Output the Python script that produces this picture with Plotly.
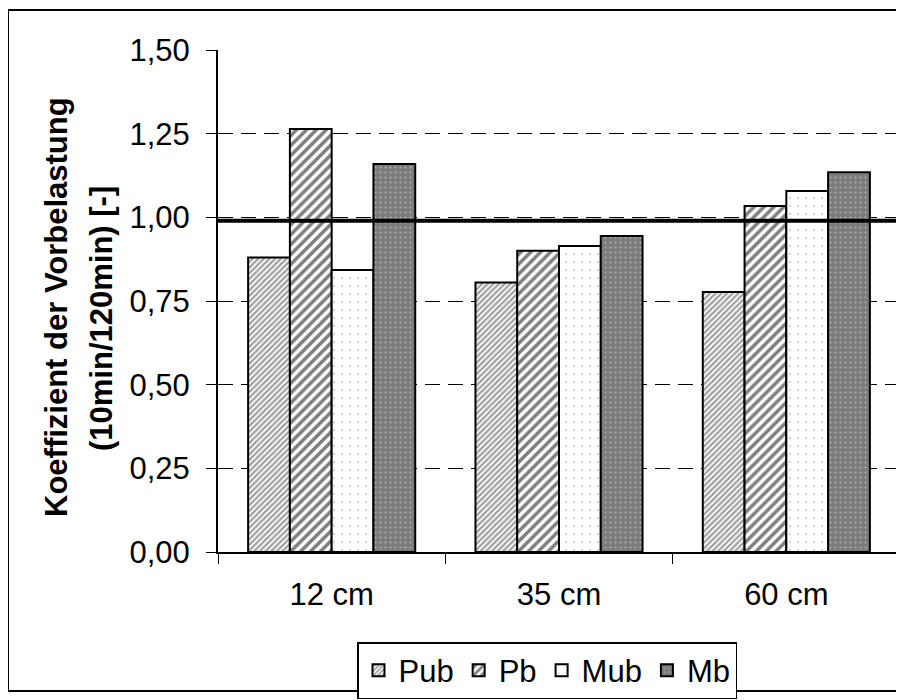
import plotly.graph_objects as go

categories = ["12 cm", "35 cm", "60 cm"]
pub = [0.88, 0.805, 0.777]
pb = [1.264, 0.90, 1.034]
mub = [0.843, 0.914, 1.079]
mb = [1.159, 0.944, 1.135]
ref_value = 0.99
tick_vals = [0, 0.25, 0.5, 0.75, 1.0, 1.25, 1.5]
tick_text = ["0,00", "0,25", "0,50", "0,75", "1,00", "1,25", "1,50"]

# page body has an 8px margin; figure coords = screen coords - 8
OFF = 8
W, H = 896, 692
L, R, T, B = 218 - OFF, 4, 50 - OFF, 148
PW, PH = W - L - R, H - T - B

def px_x(x):  # screen px -> paper
    return (x - OFF - L) / PW

def px_y(y):
    return (H - B - (y - OFF)) / PH

FONT = "Liberation Sans, Arial, sans-serif"

styles = {
    "Pub": dict(color="white", pattern=dict(shape="/", fgcolor="#404040", size=4, solidity=0.55, fillmode="overlay")),
    "Pb": dict(color="white", pattern=dict(shape="/", fgcolor="black", size=7, solidity=0.5, fillmode="overlay")),
    "Mub": dict(color="white", pattern=dict(shape=".", fgcolor="#808080", size=8, solidity=0.04, fillmode="overlay")),
    "Mb": dict(color="#7c7c7c", pattern=dict(shape=".", fgcolor="#dcdcdc", size=5, solidity=0.15, fillmode="overlay")),
}

fig = go.Figure()
for name, vals in [("Pub", pub), ("Pb", pb), ("Mub", mub), ("Mb", mb)]:
    st = styles[name]
    fig.add_trace(go.Bar(
        x=categories, y=vals, name=name,
        marker=dict(color=st["color"], pattern=st["pattern"], line=dict(color="black", width=2)),
    ))

# reference line at ~1
fig.add_shape(type="line", xref="paper", yref="y", x0=0, x1=1, y0=ref_value, y1=ref_value,
              line=dict(color="black", width=4), layer="above")
# right plot border
fig.add_shape(type="line", xref="paper", yref="paper", x0=1, x1=1, y0=px_y(562), y1=1,
              line=dict(color="#404040", width=2))
# outer frame
fig.add_shape(type="rect", xref="paper", yref="paper", x0=px_x(8), x1=px_x(910),
              y0=px_y(691), y1=px_y(10), line=dict(color="black", width=2))

# y title
fig.add_annotation(text="<b>Koeffizient der Vorbelastung</b>", xref="paper", yref="paper",
                   x=px_x(56), y=px_y(307), textangle=-90, showarrow=False,
                   xanchor="center", yanchor="middle", font=dict(family=FONT, size=31, color="black"))
fig.add_annotation(text="<b>(10min/120min) [-]</b>", xref="paper", yref="paper",
                   x=px_x(101), y=px_y(319), textangle=-90, showarrow=False,
                   xanchor="center", yanchor="middle", font=dict(family=FONT, size=31, color="black"))

fig.update_layout(
    width=W, height=H,
    margin=dict(l=L, r=R, t=T, b=B, autoexpand=False),
    paper_bgcolor="white", plot_bgcolor="white",
    font=dict(family=FONT, size=31, color="black"),
    barmode="group", bargap=0.265, bargroupgap=0,
    showlegend=True,
    legend=dict(orientation="h", x=px_x(547), xanchor="center", y=px_y(642), yanchor="top",
                bordercolor="black", borderwidth=1.5, font=dict(size=31),
                itemwidth=30, tracegroupgap=0),
)
fig.update_yaxes(range=[0, 1.5], tickvals=tick_vals, ticktext=tick_text,
                 showline=True, linecolor="black", linewidth=2,
                 ticks="outside", ticklen=10, tickcolor="black", tickwidth=1,
                 ticklabelstandoff=10,
                 showgrid=True, gridcolor="black", gridwidth=1, griddash="15px,8px",
                 zeroline=False, automargin=False)
fig.update_xaxes(showline=True, linecolor="black", linewidth=2,
                 ticks="outside", ticklen=10, tickcolor="black", tickson="boundaries",
                 ticklabelstandoff=14, showgrid=False, automargin=False)

fig.write_html("out.html")
